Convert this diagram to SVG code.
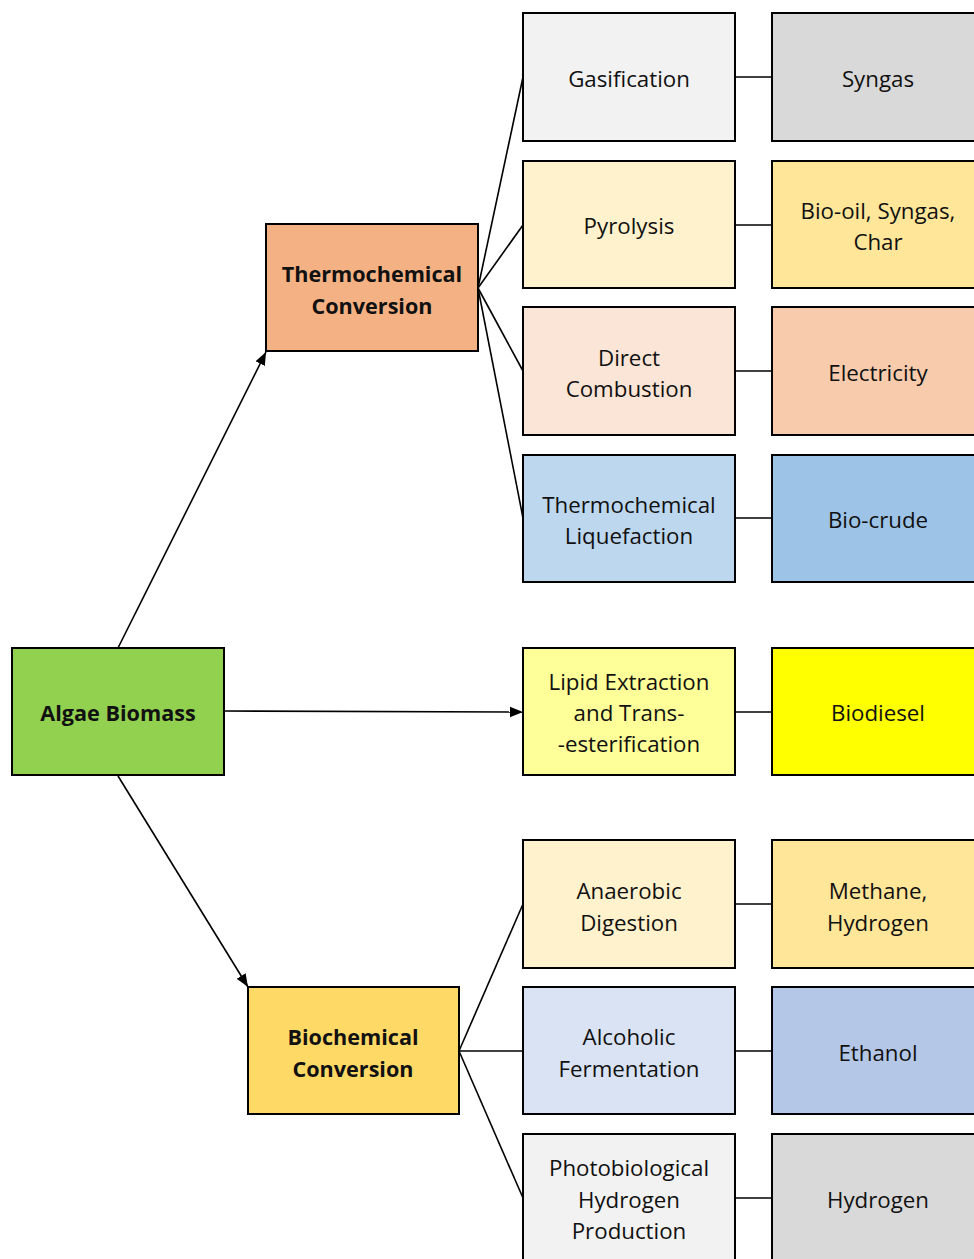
<svg xmlns="http://www.w3.org/2000/svg" width="974" height="1259" viewBox="0 0 974 1259">
<defs>
<style>
.box{stroke:#000;stroke-width:2}
.t{font-family:"Open Sans","Liberation Sans",sans-serif;font-size:22.3px;fill:#111;text-anchor:middle;dominant-baseline:central}
.b{font-weight:bold;font-size:21.6px}
.c{stroke:#000;stroke-width:1.6;fill:none}
</style>
<marker id="ah2" viewBox="0 0 10 10" refX="10" refY="5" markerWidth="13" markerHeight="13" markerUnits="userSpaceOnUse" orient="auto"><path d="M0,1 L10,5 L0,9 z" fill="#000"/></marker>
</defs>
<rect width="974" height="1259" fill="#fff"/>
<g id="connectors">
<line class="c" x1="118" y1="648" x2="266" y2="352" marker-end="url(#ah2)"/>
<line class="c" x1="118" y1="776" x2="248" y2="987" marker-end="url(#ah2)"/>
<line class="c" x1="225" y1="711" x2="523" y2="712" marker-end="url(#ah2)"/>
<line class="c" x1="478" y1="288" x2="523" y2="77"/>
<line class="c" x1="478" y1="288" x2="523" y2="225"/>
<line class="c" x1="478" y1="288" x2="523" y2="371"/>
<line class="c" x1="478" y1="288" x2="523" y2="518"/>
<line class="c" x1="459" y1="1051" x2="523" y2="904"/>
<line class="c" x1="459" y1="1051" x2="523" y2="1051"/>
<line class="c" x1="459" y1="1051" x2="523" y2="1198"/>
<line class="c" x1="735" y1="77" x2="772" y2="77"/>
<line class="c" x1="735" y1="225" x2="772" y2="225"/>
<line class="c" x1="735" y1="371" x2="772" y2="371"/>
<line class="c" x1="735" y1="518" x2="772" y2="518"/>
<line class="c" x1="735" y1="712" x2="772" y2="712"/>
<line class="c" x1="735" y1="904" x2="772" y2="904"/>
<line class="c" x1="735" y1="1051" x2="772" y2="1051"/>
<line class="c" x1="735" y1="1198" x2="772" y2="1198"/>
</g>
<g id="algae"><rect class="box" x="12" y="648" width="212" height="127" fill="#92D050"/><text class="t b" x="118" y="712">Algae Biomass</text></g>
<g id="thermo"><rect class="box" x="266" y="224" width="212" height="127" fill="#F4B183"/><text class="t b" x="372" y="273">Thermochemical</text><text class="t b" x="372" y="305">Conversion</text></g>
<g id="biochem"><rect class="box" x="248" y="987" width="211" height="127" fill="#FFD966"/><text class="t b" x="353" y="1036">Biochemical</text><text class="t b" x="353" y="1068">Conversion</text></g>
<g id="gasification"><rect class="box" x="523" y="13" width="212" height="128" fill="#F2F2F2"/><text class="t" x="629" y="78">Gasification</text></g>
<g id="syngas"><rect class="box" x="772" y="13" width="220" height="128" fill="#D9D9D9"/><text class="t" x="878" y="78">Syngas</text></g>
<g id="pyrolysis"><rect class="box" x="523" y="161" width="212" height="127" fill="#FFF2CC"/><text class="t" x="629" y="225">Pyrolysis</text></g>
<g id="biooil"><rect class="box" x="772" y="161" width="220" height="127" fill="#FFE699"/><text class="t" x="878" y="210">Bio-oil, Syngas,</text><text class="t" x="878" y="241">Char</text></g>
<g id="combustion"><rect class="box" x="523" y="307" width="212" height="128" fill="#FBE5D6"/><text class="t" x="629" y="357">Direct</text><text class="t" x="629" y="388">Combustion</text></g>
<g id="electricity"><rect class="box" x="772" y="307" width="220" height="128" fill="#F8CBAD"/><text class="t" x="878" y="372">Electricity</text></g>
<g id="liquefaction"><rect class="box" x="523" y="455" width="212" height="127" fill="#BDD7EE"/><text class="t" x="629" y="504">Thermochemical</text><text class="t" x="629" y="535">Liquefaction</text></g>
<g id="biocrude"><rect class="box" x="772" y="455" width="220" height="127" fill="#9DC3E6"/><text class="t" x="878" y="519">Bio-crude</text></g>
<g id="lipid"><rect class="box" x="523" y="648" width="212" height="127" fill="#FFFF99"/><text class="t" x="629" y="681">Lipid Extraction</text><text class="t" x="629" y="712">and Trans-</text><text class="t" x="629" y="743">-esterification</text></g>
<g id="biodiesel"><rect class="box" x="772" y="648" width="220" height="127" fill="#FFFF00"/><text class="t" x="878" y="712">Biodiesel</text></g>
<g id="anaerobic"><rect class="box" x="523" y="840" width="212" height="128" fill="#FFF2CC"/><text class="t" x="629" y="890">Anaerobic</text><text class="t" x="629" y="922">Digestion</text></g>
<g id="methane"><rect class="box" x="772" y="840" width="220" height="128" fill="#FFE699"/><text class="t" x="878" y="890">Methane,</text><text class="t" x="878" y="922">Hydrogen</text></g>
<g id="alcoholic"><rect class="box" x="523" y="987" width="212" height="127" fill="#DAE3F3"/><text class="t" x="629" y="1036">Alcoholic</text><text class="t" x="629" y="1068">Fermentation</text></g>
<g id="ethanol"><rect class="box" x="772" y="987" width="220" height="127" fill="#B4C7E7"/><text class="t" x="878" y="1052">Ethanol</text></g>
<g id="photobio"><rect class="box" x="523" y="1134" width="212" height="128" fill="#F2F2F2"/><text class="t" x="629" y="1167">Photobiological</text><text class="t" x="629" y="1199">Hydrogen</text><text class="t" x="629" y="1230">Production</text></g>
<g id="hydrogen"><rect class="box" x="772" y="1134" width="220" height="128" fill="#D9D9D9"/><text class="t" x="878" y="1199">Hydrogen</text></g>
</svg>
